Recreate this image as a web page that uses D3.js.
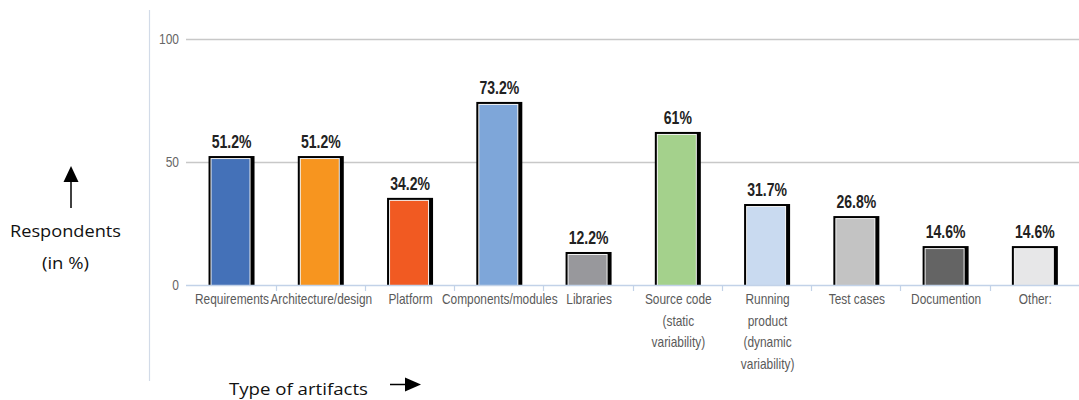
<!DOCTYPE html>
<html>
<head>
<meta charset="utf-8">
<script src="https://cdn.jsdelivr.net/npm/d3@7"></script>
<style>
  html, body { margin: 0; padding: 0; background: #fff; }
  svg { display: block; }
</style>
</head>
<body>
<svg id="chart" width="1079" height="400"></svg>
<script>
// Artifact types (multi-line labels split on "\n")
const categories = [
  "Requirements",
  "Architecture/design",
  "Platform",
  "Components/modules",
  "Libraries",
  "Source code\n(static\nvariability)",
  "Running\nproduct\n(dynamic\nvariability)",
  "Test cases",
  "Documention",
  "Other:"
];
// Share of respondents (%)
const values = [51.2, 51.2, 34.2, 73.2, 12.2, 61, 31.7, 26.8, 14.6, 14.6];
const valueLabels = ["51.2%", "51.2%", "34.2%", "73.2%", "12.2%", "61%", "31.7%", "26.8%", "14.6%", "14.6%"];
const barColors = ["#4471b8", "#f7951f", "#f15a22", "#7ea6d9", "#98989c",
                   "#a4d18c", "#c9daf0", "#c3c3c3", "#646464", "#e7e7e8"];
const yTicks = [0, 50, 100];

const svg = d3.select("#chart");
const sans = "'Liberation Sans', Arial, sans-serif";
const body = "'Open Sans', 'Noto Sans', sans-serif";

const x = d3.scaleBand().domain(categories).range([187.4, 1080]).padding(0);
const y = d3.scaleLinear().domain([0, 100]).range([285, 39]);

// Horizontally condensed text, anchored at (px, py)
function narrowText(g, px, py, str, size, sx, anchor) {
  return g.append("text")
    .attr("transform", `translate(${px},${py}) scale(${sx},1)`)
    .attr("text-anchor", anchor)
    .attr("font-family", sans)
    .attr("font-size", size)
    .text(str);
}

// Left frame line
svg.append("line")
  .attr("x1", 149.5).attr("x2", 149.5).attr("y1", 10).attr("y2", 381)
  .attr("stroke", "#d2dbe8").attr("stroke-width", 1.2);

// Horizontal gridlines
svg.append("g").selectAll("line").data(yTicks.filter(t => t > 0)).join("line")
  .attr("x1", 186).attr("x2", 1079)
  .attr("y1", d => Math.round(y(d)) + 0.5).attr("y2", d => Math.round(y(d)) + 0.5)
  .attr("stroke", "#c8c8c8").attr("stroke-width", 1.4);

// Y tick labels
const yLab = svg.append("g").attr("fill", "#666");
yTicks.forEach(t => narrowText(yLab, 179, y(t) + 5, String(t), 15, 0.8, "end"));

// Bars: black shadowed outline, thin white rim, coloured fill
const cx = i => x(categories[i]) + x.bandwidth() / 2 - 1.5;
const bars = svg.append("g").selectAll("g").data(values).join("g");
bars.append("rect")
  .attr("x", (d, i) => cx(i) - 22)
  .attr("y", d => y(d) - 3)
  .attr("width", 46)
  .attr("height", d => y(0) - y(d) + 3)
  .attr("fill", "#000");
bars.append("rect")
  .attr("x", (d, i) => cx(i) - 20)
  .attr("y", d => y(d) - 1)
  .attr("width", 40)
  .attr("height", d => y(0) - y(d) + 1)
  .attr("fill", "#f2f2f2");
bars.append("rect")
  .attr("x", (d, i) => cx(i) - 19)
  .attr("y", d => y(d))
  .attr("width", 38)
  .attr("height", d => y(0) - y(d))
  .attr("fill", (d, i) => barColors[i]);

// Value labels
const vLab = svg.append("g").attr("fill", "#222").attr("font-weight", "bold");
values.forEach((v, i) => narrowText(vLab, cx(i) + 1, y(v) - 11, valueLabels[i], 18, 0.78, "middle"));

// Category axis line and ticks
svg.append("line")
  .attr("x1", 186).attr("x2", 1079).attr("y1", 285.5).attr("y2", 285.5)
  .attr("stroke", "#c2d2e8").attr("stroke-width", 1.5);
svg.append("g").selectAll("line").data(categories.slice(1)).join("line")
  .attr("x1", d => Math.round(x(d)) - 0.5).attr("x2", d => Math.round(x(d)) - 0.5)
  .attr("y1", 285).attr("y2", 291)
  .attr("stroke", "#c2d2e8").attr("stroke-width", 1.2);

// Category labels
const catG = svg.append("g").attr("fill", "#5a5a5a");
categories.forEach((c, i) => {
  const mid = x(c) + x.bandwidth() / 2;
  c.split("\n").forEach((line, k) => narrowText(catG, mid, 304 + k * 21.5, line, 14, 0.85, "middle"));
});

// Axis titles with arrows
const title = (px, py, str, len) => svg.append("text")
  .attr("x", px).attr("y", py).attr("text-anchor", "middle")
  .attr("font-family", body).attr("font-size", 16).attr("fill", "#111")
  .attr("textLength", len).attr("lengthAdjust", "spacingAndGlyphs")
  .text(str);
title(65.5, 237, "Respondents", 111);
title(65.5, 269, "(in %)", 47);
title(298.5, 395, "Type of artifacts", 139);

svg.append("line").attr("x1", 71).attr("x2", 71).attr("y1", 180).attr("y2", 208)
  .attr("stroke", "#000").attr("stroke-width", 1.5);
svg.append("path").attr("d", "M71,166 L63.5,182 L78.5,182 Z").attr("fill", "#000");

svg.append("line").attr("x1", 390).attr("x2", 408).attr("y1", 384.5).attr("y2", 384.5)
  .attr("stroke", "#000").attr("stroke-width", 1.5);
svg.append("path").attr("d", "M421,384.5 L405,377.5 L405,391.5 Z").attr("fill", "#000");
</script>
</body>
</html>
